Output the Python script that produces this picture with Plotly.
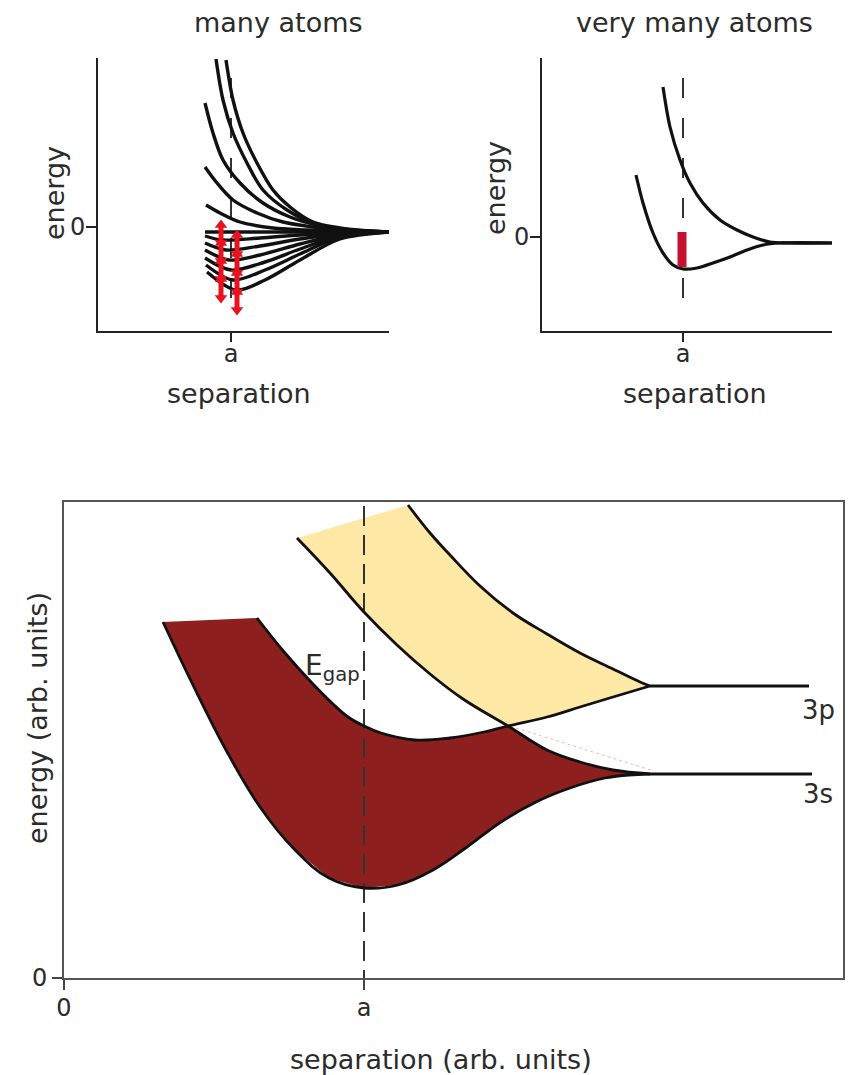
import plotly.graph_objects as go

W, H = 856, 1075

# ---------------- data: top-left panel "many atoms" ----------------
tl_a = 1.33
tl_upper_x = [
    [1.28, 1.35, 1.45, 1.59, 1.75, 1.92, 2.15, 2.42, 2.72, 2.91],
    [1.18, 1.25, 1.35, 1.49, 1.65, 1.89, 2.15, 2.42, 2.72, 2.91],
    [1.07, 1.15, 1.25, 1.42, 1.65, 1.92, 2.19, 2.52, 2.91],
    [1.07, 1.19, 1.35, 1.59, 1.85, 2.15, 2.52, 2.91],
    [1.08, 1.22, 1.42, 1.75, 2.09, 2.52, 2.91],
]
tl_upper_y = [
    [1.67, 1.27, 0.94, 0.64, 0.37, 0.20, 0.05, -0.01, -0.04, -0.05],
    [1.68, 1.27, 0.94, 0.64, 0.37, 0.17, 0.04, -0.02, -0.04, -0.05],
    [1.24, 0.94, 0.67, 0.44, 0.24, 0.10, 0.02, -0.03, -0.05],
    [0.60, 0.44, 0.27, 0.14, 0.05, 0.00, -0.04, -0.05],
    [0.22, 0.14, 0.05, -0.01, -0.03, -0.045, -0.05],
]
tl_lower_x = [
    [1.07, 1.60, 2.20, 2.91],
    [1.07, 1.24, 1.62, 2.02, 2.42, 2.91],
    [1.07, 1.28, 1.62, 2.02, 2.42, 2.91],
    [1.07, 1.31, 1.62, 2.02, 2.42, 2.91],
    [1.07, 1.33, 1.67, 2.02, 2.42, 2.91],
    [1.08, 1.35, 1.67, 2.02, 2.42, 2.91],
    [1.09, 1.38, 1.67, 2.02, 2.42, 2.91],
]
tl_lower_y = [
    [-0.05, -0.05, -0.05, -0.05],
    [-0.09, -0.13, -0.11, -0.08, -0.06, -0.05],
    [-0.16, -0.23, -0.19, -0.12, -0.07, -0.05],
    [-0.23, -0.33, -0.28, -0.17, -0.08, -0.05],
    [-0.31, -0.43, -0.35, -0.22, -0.09, -0.05],
    [-0.38, -0.53, -0.43, -0.27, -0.10, -0.05],
    [-0.45, -0.63, -0.53, -0.33, -0.12, -0.05],
]
tl_dash_y = [1.49, -0.85]
# red double arrows (two columns, stacked segments)
arrow_cols_x = [1.23, 1.39]
arrow_cols_y = [
    [0.02, -0.16, -0.34, -0.52, -0.71],
    [-0.08, -0.27, -0.46, -0.65, -0.83],
]

# ---------------- data: top-right panel "very many atoms" ----------------
tr_a = 1.41
tr_upper_x = [1.21, 1.28, 1.38, 1.48, 1.61, 1.78, 1.95, 2.11, 2.28, 2.45, 2.90]
tr_upper_y = [1.50, 1.10, 0.77, 0.54, 0.34, 0.17, 0.07, 0.00, -0.05, -0.06, -0.06]
tr_lower_x = [0.94, 1.01, 1.11, 1.21, 1.31, 1.41, 1.55, 1.71, 1.88, 2.05, 2.21, 2.38, 2.90]
tr_lower_y = [0.62, 0.34, 0.04, -0.16, -0.28, -0.32, -0.31, -0.26, -0.20, -0.13, -0.08, -0.06, -0.06]
tr_bar_x = 1.40
tr_bar_y = [0.05, -0.30]
tr_dash_y = [1.59, -0.75]

# ---------------- data: bottom panel (bands) ----------------
b_a = 3.0
s_top_left_x = [1.93, 2.21, 2.48, 2.69, 2.84, 3.00, 3.17, 3.51, 3.86, 4.20, 4.44]
s_top_left_y = [3.60, 3.25, 2.95, 2.74, 2.61, 2.52, 2.45, 2.38, 2.40, 2.46, 2.52]
p_low_right_x = [4.44, 4.83, 5.16, 5.49, 5.86]
p_low_right_y = [2.52, 2.61, 2.71, 2.81, 2.92]
p_low_left_x = [2.33, 2.66, 2.99, 3.33, 3.66, 3.99, 4.44]
p_low_left_y = [4.40, 4.05, 3.67, 3.33, 3.04, 2.79, 2.52]
s_top_right_x = [4.44, 4.83, 5.16, 5.49, 5.86]
s_top_right_y = [2.52, 2.28, 2.16, 2.08, 2.04]
p_top_x = [3.44, 3.66, 3.86, 4.16, 4.49, 4.83, 5.16, 5.49, 5.76, 5.86]
p_top_y = [4.73, 4.45, 4.23, 3.92, 3.65, 3.44, 3.25, 3.09, 2.96, 2.92]
s_bottom_x = [0.99, 1.28, 1.62, 1.96, 2.31, 2.65, 3.00, 3.34, 3.69, 4.03, 4.37, 4.72, 5.06, 5.41, 5.65, 5.86]
s_bottom_y = [3.56, 2.95, 2.28, 1.71, 1.28, 1.00, 0.90, 0.93, 1.08, 1.31, 1.56, 1.76, 1.90, 2.00, 2.03, 2.04]
level_3p_x = [5.86, 7.45]
level_3p_y = [2.92, 2.92]
level_3s_x = [5.86, 7.48]
level_3s_y = [2.04, 2.04]
ghost_x = [4.52, 5.90]
ghost_y = [2.50, 2.07]
b_dash_y = [4.72, 0.0]

BROWN = "#8e1f1f"
YELLOW = "#fde8a6"
INK = "#111111"
TXT = "#2b2b2b"
FONT = "DejaVu Sans"

fig = go.Figure()


def line(x, y, xa, ya, color=INK, width=3.0, dash=None, shape="spline", smoothing=0.9):
    fig.add_trace(go.Scatter(
        x=x, y=y, xaxis=xa, yaxis=ya, mode="lines",
        line=dict(color=color, width=width, dash=dash, shape=shape, smoothing=smoothing),
        hoverinfo="skip", showlegend=False))


# ----- top-left -----
line([tl_a, tl_a], tl_dash_y, "x", "y", color="#333", width=2, dash="20px,20px", shape="linear")
for xs, ys in zip(tl_upper_x, tl_upper_y):
    line(xs, ys, "x", "y", width=3.4)
for xs, ys in zip(tl_lower_x, tl_lower_y):
    line(xs, ys, "x", "y", width=3.4)
RED = "#e8131f"
for cx, cy in zip(arrow_cols_x, arrow_cols_y):
    line([cx, cx], [cy[0], cy[-1]], "x", "y", color=RED, width=5, shape="linear")
    tops = cy[:-1]
    bots = cy[1:]
    fig.add_trace(go.Scatter(
        x=[cx] * (len(tops) + len(bots)), y=list(tops) + list(bots), xaxis="x", yaxis="y",
        mode="markers",
        marker=dict(symbol=["triangle-up"] * len(tops) + ["triangle-down"] * len(bots),
                    size=11, color=RED, line=dict(width=0)),
        hoverinfo="skip", showlegend=False))

# ----- top-right -----
line([tr_a, tr_a], tr_dash_y, "x2", "y2", color="#333", width=2, dash="20px,20px", shape="linear")
line(tr_upper_x, tr_upper_y, "x2", "y2", width=3.2)
line(tr_lower_x, tr_lower_y, "x2", "y2", width=3.2)
line([tr_bar_x, tr_bar_x], tr_bar_y, "x2", "y2", color="#c41230", width=9, shape="linear")

# ----- bottom -----
brown_x = s_top_left_x + s_top_right_x[1:] + s_bottom_x[::-1]
brown_y = s_top_left_y + s_top_right_y[1:] + s_bottom_y[::-1]
fig.add_trace(go.Scatter(x=brown_x, y=brown_y, xaxis="x3", yaxis="y3", mode="lines",
                         fill="toself", fillcolor=BROWN, line=dict(width=0, color=BROWN),
                         hoverinfo="skip", showlegend=False))
yellow_x = p_top_x + p_low_right_x[::-1][1:] + p_low_left_x[::-1][1:]
yellow_y = p_top_y + p_low_right_y[::-1][1:] + p_low_left_y[::-1][1:]
fig.add_trace(go.Scatter(x=yellow_x, y=yellow_y, xaxis="x3", yaxis="y3", mode="lines",
                         fill="toself", fillcolor=YELLOW, line=dict(width=0, color=YELLOW),
                         hoverinfo="skip", showlegend=False))
line(ghost_x, ghost_y, "x3", "y3", color="rgba(215,140,140,0.6)", width=1, dash="3px,3px", shape="linear")
line([b_a, b_a], b_dash_y, "x3", "y3", color="#333", width=2, dash="20px,9px", shape="linear")
SM = 1.1
line(s_top_left_x + p_low_right_x[1:], s_top_left_y + p_low_right_y[1:], "x3", "y3", width=2.8, smoothing=SM)
line(p_low_left_x + s_top_right_x[1:], p_low_left_y + s_top_right_y[1:], "x3", "y3", width=2.8, smoothing=SM)
line(p_top_x, p_top_y, "x3", "y3", width=2.8, smoothing=SM)
line(s_bottom_x, s_bottom_y, "x3", "y3", width=2.8, smoothing=SM)
line(level_3p_x, level_3p_y, "x3", "y3", width=2.8, shape="linear")
line(level_3s_x, level_3s_y, "x3", "y3", width=2.8, shape="linear")


def pap(px, py):
    return px / W, 1 - py / H


ann = []


def text(t, px, py, size=27, angle=0, xanchor="center", yanchor="middle"):
    x, y = pap(px, py)
    ann.append(dict(text=t, x=x, y=y, xref="paper", yref="paper", showarrow=False,
                    textangle=angle, xanchor=xanchor, yanchor=yanchor,
                    font=dict(family=FONT, size=size, color=TXT)))


text("many atoms", 278, 22)
text("very many atoms", 694, 22)
text("energy", 54, 193, angle=-90)
text("energy", 496, 188, angle=-90)
text("separation", 239, 394)
text("separation", 695, 394)
text("separation (arb. units)", 441, 1059)
text("energy (arb. units)", 37, 718, angle=-90)
text("3p", 818, 710, size=26)
text("3s", 818, 794, size=26)
text("E<sub>gap</sub>", 362, 667, size=28, xanchor="right")

axis_common = dict(showgrid=False, zeroline=False, showline=True, ticks="outside",
                   automargin=False,
                   tickfont=dict(family=FONT, size=24, color=TXT), fixedrange=True)

fig.update_layout(
    width=W, height=H, margin=dict(l=0, r=0, t=0, b=0, pad=0, autoexpand=False),
    paper_bgcolor="white", plot_bgcolor="white", showlegend=False,
    annotations=ann,
    xaxis=dict(domain=[98 / W, 389 / W], range=[0, 2.91], anchor="y",
               tickvals=[tl_a], ticktext=["a"], ticklen=9, tickwidth=2, tickcolor="#222",
               ticklabelstandoff=-9,
               linecolor="#222", linewidth=2, **axis_common),
    yaxis=dict(domain=[1 - 331 / H, 1 - 58 / H], range=[-1.04, 1.69], anchor="x",
               tickvals=[0], ticktext=["0"], ticklen=10, tickwidth=2, tickcolor="#222",
               ticklabelstandoff=-4,
               linecolor="#222", linewidth=2, **axis_common),
    xaxis2=dict(domain=[542 / W, 832 / W], range=[0, 2.90], anchor="y2",
                tickvals=[tr_a], ticktext=["a"], ticklen=9, tickwidth=2, tickcolor="#222",
                ticklabelstandoff=-9,
                linecolor="#222", linewidth=2, **axis_common),
    yaxis2=dict(domain=[1 - 331 / H, 1 - 58 / H], range=[-0.94, 1.79], anchor="x2",
                tickvals=[0], ticktext=["0"], ticklen=10, tickwidth=2, tickcolor="#222",
                ticklabelstandoff=-4,
                linecolor="#222", linewidth=2, **axis_common),
    xaxis3=dict(domain=[64 / W, 843 / W], range=[0, 7.79], anchor="y3",
                tickvals=[0, b_a], ticktext=["0", "a"], ticklen=10, tickwidth=2, tickcolor="#444",
                ticklabelstandoff=-3,
                linecolor="#555", linewidth=2, mirror=True, **axis_common),
    yaxis3=dict(domain=[1 - 978 / H, 1 - 502 / H], range=[0, 4.76], anchor="x3",
                tickvals=[0], ticktext=["0"], ticklen=10, tickwidth=2, tickcolor="#444",
                linecolor="#555", linewidth=2, mirror=True, **axis_common),
)

fig.write_html(
    "out.html",
    config={"displayModeBar": False},
    post_script="document.body.style.margin='0';document.body.style.padding='0';"
                "document.documentElement.style.overflow='hidden';document.body.style.overflow='hidden';",
)
